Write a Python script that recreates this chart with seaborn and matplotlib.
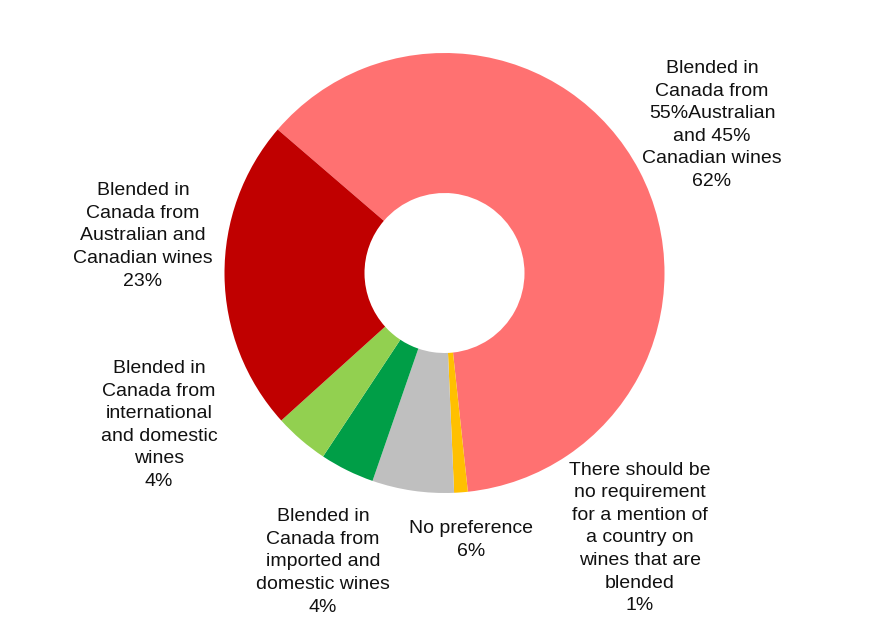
import matplotlib
matplotlib.use("Agg")
import matplotlib.pyplot as plt
import seaborn as sns

# Survey answers: how blended wines should be labelled
categories = [
    "Blended in\nCanada from\n55%Australian\nand 45%\nCanadian wines",
    "There should be\nno requirement\nfor a mention of\na country on\nwines that are\nblended",
    "No preference",
    "Blended in\nCanada from\nimported and\ndomestic wines",
    "Blended in\nCanada from\ninternational\nand domestic\nwines",
    "Blended in\nCanada from\nAustralian and\nCanadian wines",
]
shares = [62, 1, 6, 4, 4, 23]
colors = ["#FF7171", "#FFC000", "#BFBFBF", "#009E47", "#92D050", "#C00000"]

# label anchor points in figure pixels (x, y from top)
label_px = [(712, 125), (640, 538), (471, 540), (323, 562), (159, 425), (143, 236)]

sns.set_theme(style="white")
plt.rcParams["font.family"] = ["Liberation Sans", "DejaVu Sans"]

W, H = 880, 621
fig = plt.figure(figsize=(W / 100, H / 100), dpi=100)
cx, cy, r = 444.5, 273, 220
ax = fig.add_axes([(cx - r) / W, (H - cy - r) / H, 2 * r / W, 2 * r / H])

ax.pie(shares, colors=colors, startangle=139.3, counterclock=False,
       radius=1.0, wedgeprops=dict(width=1 - 80 / 220, linewidth=0))
ax.set_xlim(-1, 1)
ax.set_ylim(-1, 1)
ax.set_aspect("equal")
ax.axis("off")

for text, val, (px, py) in zip(categories, shares, label_px):
    fig.text(px / W, 1 - py / H, f"{text}\n{val}%", ha="center", va="center",
             multialignment="center", fontsize=14, linespacing=1.43,
             color="#111111")

fig.savefig("out.png", dpi=100, facecolor="white")
